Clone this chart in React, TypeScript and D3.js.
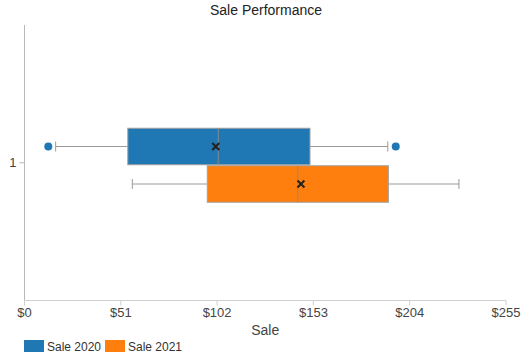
import React from "react";
import * as d3 from "d3";

const categories = ["1"];
const seriesNames = ["Sale 2020", "Sale 2021"];
const seriesColors = ["#1f77b4", "#ff7f0e"];
const lowWhisker = [16.5, 57.1];
const q1 = [54.7, 96.8];
const median = [102.6, 144.7];
const mean = [101.3, 146.4];
const q3 = [151.2, 192.7];
const highWhisker = [192.4, 230.1];
const outliers: number[][] = [[12.6, 196.6], []];
const xTicks = [0, 51, 102, 153, 204, 255];

const W = 532;
const H = 355;
const left = 24.5;
const right = 506;
const top = 25;
const bottom = 300.5;
const FONT = "'Liberation Sans', Arial, sans-serif";

export default function App() {
  const x = d3.scaleLinear().domain([0, 255]).range([left, right]);
  const y = d3.scaleBand().domain(categories).range([bottom, top]);
  const catCenter = (c: string) => (y(c) as number) + y.bandwidth() / 2;
  const inner = d3
    .scaleBand()
    .domain(seriesNames)
    .range([-34.5, 40.5])
    .paddingInner(0.0);
  const fmt = (v: number) => "$" + d3.format("d")(v);

  return (
    <svg
      width={W}
      height={H}
      style={{ position: "fixed", left: 0, top: 0, fontFamily: FONT }}
    >
      <rect width={W} height={H} fill="#fff" />
      <text x={W / 2} y={15} textAnchor="middle" fontSize={14} fill="#222">
        Sale Performance
      </text>
      {/* axes */}
      <line x1={left} x2={left} y1={top} y2={bottom} stroke="#b8b8b8" />
      <line x1={left} x2={right} y1={bottom} y2={bottom} stroke="#d0d0d0" />
      {xTicks.map((t) => (
        <g key={t}>
          <line x1={x(t)} x2={x(t)} y1={bottom} y2={bottom + 5} stroke="#d0d0d0" />
          <text x={x(t)} y={bottom + 16} textAnchor="middle" fontSize={13} fill="#444">
            {fmt(t)}
          </text>
        </g>
      ))}
      {categories.map((c) => (
        <g key={c}>
          <line x1={left - 5} x2={left} y1={catCenter(c)} y2={catCenter(c)} stroke="#b8b8b8" />
          <text x={left - 8} y={catCenter(c) + 4} textAnchor="end" fontSize={13} fill="#444">
            {c}
          </text>
        </g>
      ))}
      <text x={(left + right) / 2} y={335} textAnchor="middle" fontSize={14} fill="#444">
        Sale
      </text>
      {/* boxes */}
      {categories.map((c) =>
        seriesNames.map((s, i) => {
          const y0 = catCenter(c) + (inner(s) as number);
          const h = inner.bandwidth() - 1;
          const yc = y0 + h / 2;
          const cap = 5;
          return (
            <g key={c + s}>
              <line x1={x(lowWhisker[i])} x2={x(q1[i])} y1={yc} y2={yc} stroke="#9a9a9a" />
              <line x1={x(q3[i])} x2={x(highWhisker[i])} y1={yc} y2={yc} stroke="#9a9a9a" />
              <line x1={x(lowWhisker[i])} x2={x(lowWhisker[i])} y1={yc - cap} y2={yc + cap} stroke="#9a9a9a" />
              <line x1={x(highWhisker[i])} x2={x(highWhisker[i])} y1={yc - cap} y2={yc + cap} stroke="#9a9a9a" />
              <rect
                x={x(q1[i])}
                y={y0}
                width={x(q3[i]) - x(q1[i])}
                height={h}
                fill={seriesColors[i]}
                stroke="#a0a0a0"
              />
              <line x1={x(median[i])} x2={x(median[i])} y1={y0} y2={y0 + h} stroke="#8a8a8a" />
              <g stroke="#222" strokeWidth={2}>
                <line x1={x(mean[i]) - 3.5} x2={x(mean[i]) + 3.5} y1={yc - 3.5} y2={yc + 3.5} />
                <line x1={x(mean[i]) - 3.5} x2={x(mean[i]) + 3.5} y1={yc + 3.5} y2={yc - 3.5} />
              </g>
              {outliers[i].map((o, k) => (
                <circle key={k} cx={x(o)} cy={yc} r={4} fill={seriesColors[i]} />
              ))}
            </g>
          );
        })
      )}
      {/* legend */}
      {seriesNames.map((s, i) => {
        const lx = 24 + i * 81;
        return (
          <g key={s}>
            <rect x={lx} y={340} width={20} height={12} fill={seriesColors[i]} />
            <text x={lx + 23} y={350.5} fontSize={12} fill="#333">
              {s}
            </text>
          </g>
        );
      })}
    </svg>
  );
}
